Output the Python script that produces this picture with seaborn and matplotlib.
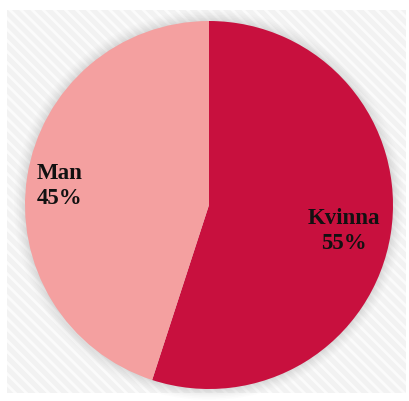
import numpy as np
import matplotlib
matplotlib.use("Agg")
import matplotlib.pyplot as plt
import seaborn as sns
from matplotlib.patches import Rectangle, Circle

sns.set_style("white")
plt.rcParams['font.family'] = ['Liberation Serif', 'DejaVu Serif']
plt.rcParams['hatch.linewidth'] = 2.0

labels = ['Kvinna', 'Man']
shares = [55, 45]
colors = ['#C8103E', '#F4A0A0']

W, H, DPI = 409, 401, 100
fig = plt.figure(figsize=(W / DPI, H / DPI), dpi=DPI)
fig.patch.set_facecolor('white')

ax = fig.add_axes([0, 0, 1, 1])
ax.patch.set_alpha(0)

# light striped backdrop panel
ax.add_patch(Rectangle((7 / W, 8 / H), 399 / W, 383 / H, transform=ax.transAxes,
                       facecolor='#f2f2f2', edgecolor='#fbfbfb', hatch='\\\\\\',
                       linewidth=0, zorder=0))

# soft shadow around the pie
for r, a in zip(np.linspace(1.06, 1.0, 8), np.linspace(0.015, 0.05, 8)):
    ax.add_patch(Circle((0, 0.0), r, color='#777777', alpha=a, lw=0, zorder=1))

wedges, _ = ax.pie(shares, colors=colors, startangle=90, counterclock=False,
                   wedgeprops=dict(linewidth=0, zorder=2))

dist = [0.74, 0.82]
for w, lab, s, d in zip(wedges, labels, shares, dist):
    ang = np.deg2rad((w.theta1 + w.theta2) / 2)
    ax.text(d * np.cos(ang), d * np.sin(ang) - 0.025, f'{lab}\n{s}%', ha='center', va='center',
            fontsize=16.5, fontweight='bold', color='#111111', linespacing=1.3, zorder=3)

R = 184
ax.set_xlim(-209 / R, (W - 209) / R)
ax.set_ylim(-(H - 205) / R, 205 / R)
ax.set_aspect('equal')
ax.axis('off')

fig.savefig('out.png', dpi=DPI)
